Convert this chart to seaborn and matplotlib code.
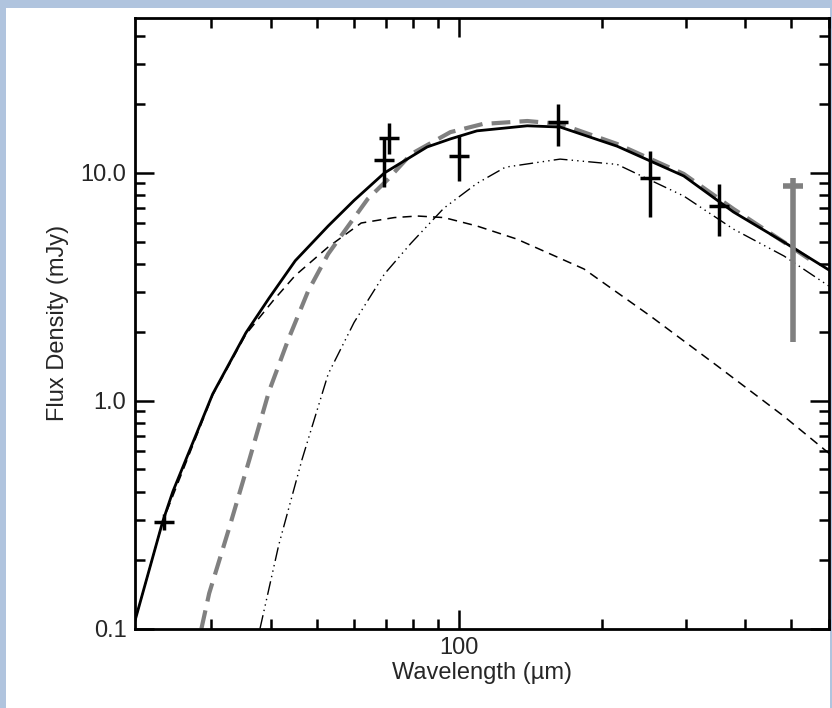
"""
SED fit: total model, two dust components, and photometry
"""

import numpy as np
import matplotlib
matplotlib.use("Agg")
import matplotlib.pyplot as plt
import matplotlib.ticker as mticker
import seaborn as sns

# Curves (wavelength in micron, flux in mJy)
total_wl = [20.5, 23.7, 24.9, 30.2, 35.5, 39.7, 45.1, 52.9, 60.0, 69.5, 85.5, 95.7,
            108.9, 139.0, 163.0, 215.0, 297.0, 378.0, 483.0, 606.0]
total_fx = [0.10, 0.295, 0.40, 1.07, 1.99, 2.82, 4.12, 5.85, 7.58, 10.0, 13.0, 14.1,
            15.3, 16.1, 15.9, 13.1, 9.7, 6.74, 4.97, 3.71]

gray_wl = [28.6, 29.7, 32.7, 36.1, 39.7, 43.6, 48.0, 52.9, 58.3, 64.1, 70.5, 79.1,
           95.7, 112.0, 139.0, 163.0, 215.0, 297.0, 378.0, 483.0, 558.0]
gray_fx = [0.10, 0.143, 0.275, 0.553, 1.10, 1.86, 3.03, 4.41, 5.85, 7.69, 9.32, 12.1,
           15.1, 16.4, 16.9, 16.4, 13.4, 9.9, 6.95, 4.97, 4.06]

warm_wl = [20.5, 23.7, 30.2, 35.5, 40.5, 45.1, 52.9, 62.1, 72.9, 81.6, 92.8,
           108.9, 132.0, 183.0, 253.0, 350.0, 483.0, 606.0]
warm_fx = [0.10, 0.295, 1.06, 1.96, 2.75, 3.55, 4.73, 6.03, 6.37, 6.47, 6.37,
           5.85, 5.13, 3.79, 2.35, 1.42, 0.855, 0.58]

cold_wl = [38.0, 41.6, 46.6, 52.9, 60.0, 69.5, 79.1, 92.7, 108.9, 125.0, 163.0,
           215.0, 297.0, 378.0, 483.0, 606.0]
cold_fx = [0.10, 0.232, 0.553, 1.31, 2.21, 3.60, 4.92, 7.0, 9.0, 10.6, 11.5,
           10.9, 7.92, 5.67, 4.32, 3.15]

# Photometry
pt_wl = [23.9, 69.5, 71.1, 100.0, 161.0, 252.0, 352.0]
pt_fx = [0.295, 11.4, 14.3, 11.9, 16.8, 9.5, 7.16]
pt_lo = [0.27, 8.7, 12.1, 9.2, 13.1, 6.4, 5.3]
pt_hi = [0.32, 14.1, 16.6, 14.6, 20.1, 12.5, 8.9]

lim_wl = [505.0]
lim_fx = [8.8]
lim_top = [9.5]
lim_lo = [1.81]

sns.set_theme(style="ticks")
plt.rcParams["font.family"] = ["Liberation Sans", "DejaVu Sans"]

fig = plt.figure(figsize=(8.32, 7.08), dpi=100)
fig.patch.set_facecolor("#b0c4de")
# white panel inside the blue frame
fig.add_artist(plt.Rectangle((0.007, 0.0), 0.99, 0.988, transform=fig.transFigure,
                             facecolor="white", edgecolor="none", zorder=0))
ax = fig.add_axes([0.162, 0.112, 0.834, 0.863])

sns.lineplot(x=warm_wl, y=warm_fx, ax=ax, color="black", lw=1.1, linestyle=(0, (6, 4)), sort=False)
sns.lineplot(x=cold_wl, y=cold_fx, ax=ax, color="black", lw=1.0,
             linestyle=(0, (10, 3, 1, 3, 1, 3, 1, 3)), sort=False)
sns.lineplot(x=gray_wl, y=gray_fx, ax=ax, color="#808080", lw=3.0, linestyle=(0, (4.5, 2.2)), sort=False)
sns.lineplot(x=total_wl, y=total_fx, ax=ax, color="black", lw=2.0, sort=False)

pt_fx_a = np.array(pt_fx)
ax.errorbar(pt_wl, pt_fx, yerr=[pt_fx_a - np.array(pt_lo), np.array(pt_hi) - pt_fx_a],
            fmt="_", color="black", ms=15, mew=2.5, elinewidth=2.5, capsize=0, zorder=5)
ax.vlines(lim_wl, lim_lo, lim_top, color="#808080", lw=4, zorder=5)
ax.plot(lim_wl, lim_fx, marker="_", color="#808080", ms=14, mew=4, zorder=5)

ax.set_xscale("log")
ax.set_yscale("log")
ax.set_xlim(20.7, 600)
ax.set_ylim(0.1, 48)

ax.xaxis.set_major_locator(mticker.FixedLocator([100]))
ax.xaxis.set_major_formatter(mticker.FixedFormatter(["100"]))
ax.xaxis.set_minor_locator(mticker.LogLocator(base=10, subs=np.arange(2, 10)))
ax.xaxis.set_minor_formatter(mticker.NullFormatter())
ax.yaxis.set_major_locator(mticker.FixedLocator([0.1, 1.0, 10.0]))
ax.yaxis.set_major_formatter(mticker.FixedFormatter(["0.1", "1.0", "10.0"]))
ax.yaxis.set_minor_locator(mticker.LogLocator(base=10, subs=np.arange(2, 10)))
ax.yaxis.set_minor_formatter(mticker.NullFormatter())

ax.tick_params(which="both", direction="in", top=True, right=True, color="black", width=1.8)
ax.tick_params(which="major", length=14, labelsize=17, pad=6)
ax.tick_params(which="minor", length=7)
for s in ax.spines.values():
    s.set_linewidth(2)
    s.set_color("black")
ax.set_facecolor("white")

ax.set_xlabel("Wavelength (\u00b5m)", fontsize=17, labelpad=2)
ax.set_ylabel("Flux Density (mJy)", fontsize=17, labelpad=8)

fig.savefig("out.png", dpi=100, facecolor=fig.get_facecolor())
